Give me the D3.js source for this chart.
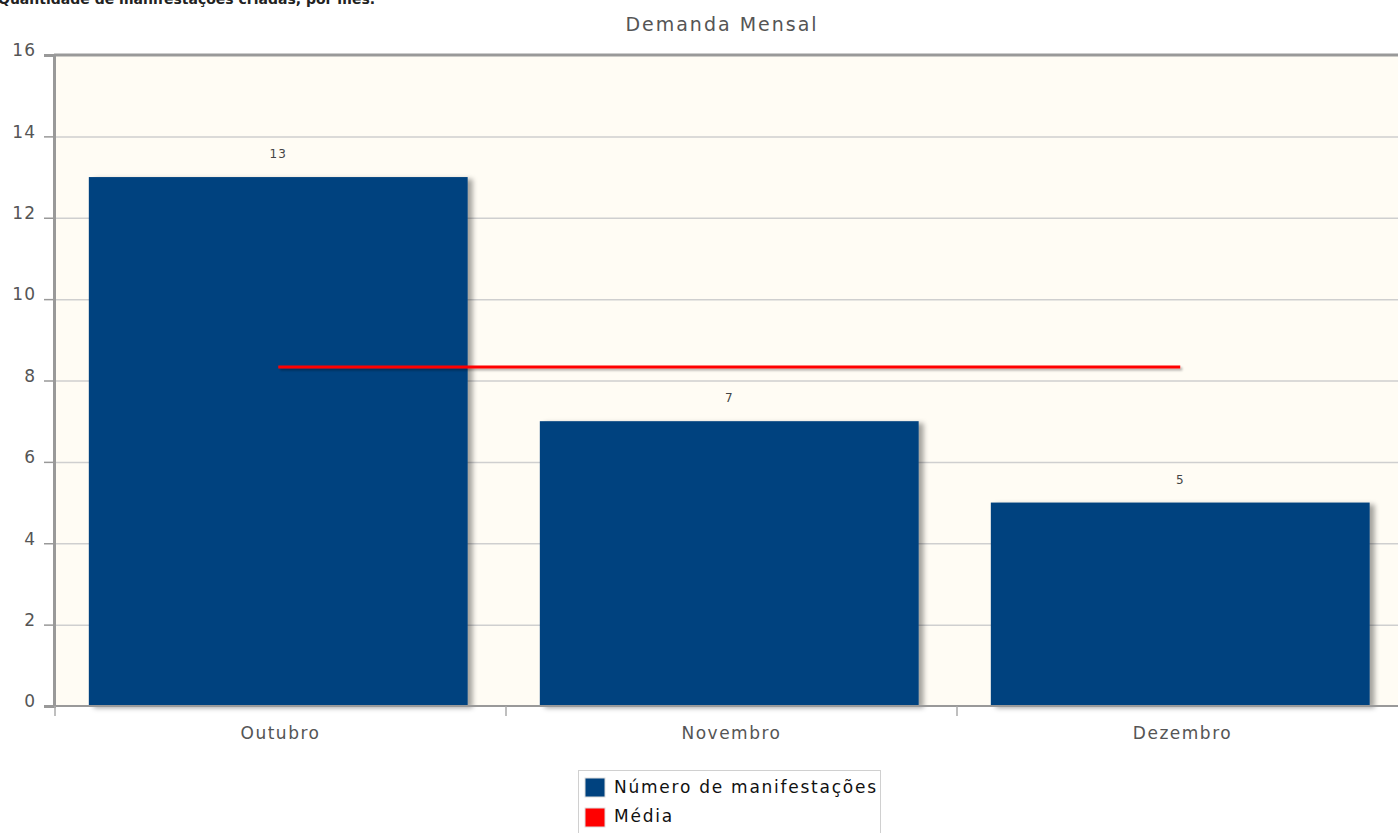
<!DOCTYPE html>
<html>
<head>
<meta charset="utf-8">
<script src="https://cdn.jsdelivr.net/npm/d3@7"></script>
<style>
  body { margin: 0; background: #fff; }
  text { font-family: "DejaVu Sans", Verdana, sans-serif; }
</style>
</head>
<body>
<div id="vis"></div>
<script>
// Data
const MONTHS = ["Outubro", "Novembro", "Dezembro"];
const COUNTS = [13, 7, 5];
const MEAN = [8.33, 8.33];
const Y_TICKS = [0, 2, 4, 6, 8, 10, 12, 14, 16];
const SERIES_NAMES = ["Número de manifestações", "Média"];

// Frame
const FRAME_WIDTH = 1398;
const FRAME_HEIGHT = 833;
const PLOT = { left: 55, right: 1408, top: 55, bottom: 706 };

const FRAME = d3.select("#vis")
    .append("svg")
    .attr("width", FRAME_WIDTH)
    .attr("height", FRAME_HEIGHT);

// shadow filters
const defs = FRAME.append("defs");
defs.append("filter").attr("id", "shadow")
    .attr("x", "-10%").attr("y", "-10%").attr("width", "130%").attr("height", "130%")
  .append("feDropShadow")
    .attr("dx", 5).attr("dy", 2).attr("stdDeviation", 2.5)
    .attr("flood-color", "#000").attr("flood-opacity", 0.35);
// line has zero height, so the filter region is in user space
defs.append("filter").attr("id", "lshadow")
    .attr("filterUnits", "userSpaceOnUse")
    .attr("x", 0).attr("y", 0).attr("width", FRAME_WIDTH).attr("height", FRAME_HEIGHT)
  .append("feDropShadow")
    .attr("dx", 2).attr("dy", 2).attr("stdDeviation", 1)
    .attr("flood-color", "#000").attr("flood-opacity", 0.3);

// scales
const X_SCALE = d3.scaleBand()
    .domain(MONTHS)
    .range([PLOT.left, PLOT.right])
    .padding(0);

const Y_SCALE = d3.scaleLinear()
    .domain([0, 16])
    .range([PLOT.bottom, PLOT.top]);

// top caption (cut at top edge, as in the original)
FRAME.append("text")
    .attr("x", -2).attr("y", 4)
    .attr("font-size", 14).attr("font-weight", "bold")
    .attr("fill", "#222")
    .text("Quantidade de manifestações criadas, por mês.");

// title
FRAME.append("text")
    .attr("x", 722).attr("y", 31)
    .attr("text-anchor", "middle")
    .attr("font-size", 19).attr("letter-spacing", 2).attr("fill", "#555")
    .text("Demanda Mensal");

// plot background
FRAME.append("rect")
    .attr("x", PLOT.left).attr("y", PLOT.top)
    .attr("width", PLOT.right - PLOT.left)
    .attr("height", PLOT.bottom - PLOT.top)
    .attr("fill", "#fffcf4");

// gridlines
FRAME.append("g")
    .attr("transform", "translate(" + PLOT.left + ",0)")
    .call(d3.axisRight(Y_SCALE).tickValues(Y_TICKS.slice(1, -1))
        .tickSize(PLOT.right - PLOT.left).tickFormat(""))
    .call(g => g.select(".domain").remove())
    .call(g => g.selectAll("line").attr("stroke", "#cfcfcf").attr("stroke-width", 1.5));

// bars
FRAME.selectAll(".bar")
    .data(MONTHS)
    .enter()
    .append("rect")
    .attr("class", "bar")
    .attr("x", (d) => X_SCALE(d) + X_SCALE.bandwidth() * 0.075)
    .attr("y", (d, i) => Y_SCALE(COUNTS[i]))
    .attr("width", X_SCALE.bandwidth() * 0.84)
    .attr("height", (d, i) => Y_SCALE(0) - Y_SCALE(COUNTS[i]))
    .attr("fill", "#00427f")
    .attr("filter", "url(#shadow)");

// value labels
FRAME.selectAll(".val")
    .data(MONTHS)
    .enter()
    .append("text")
    .attr("x", (d) => X_SCALE(d) + X_SCALE.bandwidth() * 0.495)
    .attr("y", (d, i) => Y_SCALE(COUNTS[i]) - 19)
    .attr("text-anchor", "middle")
    .attr("font-size", 12).attr("letter-spacing", 1).attr("fill", "#444")
    .text((d, i) => COUNTS[i]);

// mean line
const meanX = [MONTHS[0], MONTHS[MONTHS.length - 1]];
FRAME.append("path")
    .datum(MEAN)
    .attr("d", d3.line()
        .x((d, i) => X_SCALE(meanX[i]) + X_SCALE.bandwidth() * 0.495)
        .y((d) => Y_SCALE(d)))
    .attr("stroke", "#ff0000").attr("stroke-width", 3)
    .attr("fill", "none")
    .attr("filter", "url(#lshadow)");

// Y axis
FRAME.append("g")
    .attr("transform", "translate(" + (PLOT.left - 1) + ",0)")
    .call(d3.axisLeft(Y_SCALE).tickValues(Y_TICKS).tickSize(10).tickPadding(8))
    .call(g => g.select(".domain").attr("stroke", "#999").attr("stroke-width", 3))
    .call(g => g.selectAll("line").attr("stroke", "#999").attr("stroke-width", 1.5))
    .call(g => g.selectAll("text").attr("font-size", 17).attr("letter-spacing", 1).attr("fill", "#555")
        .attr("font-family", "DejaVu Sans, Verdana, sans-serif").attr("dy", "0.05em"));

// top border
FRAME.append("line")
    .attr("x1", PLOT.left - 1).attr("x2", PLOT.right)
    .attr("y1", PLOT.top).attr("y2", PLOT.top)
    .attr("stroke", "#999").attr("stroke-width", 3);

// X axis
const X_AXIS = FRAME.append("g")
    .attr("transform", "translate(0," + PLOT.bottom + ")");
X_AXIS.append("line")
    .attr("x1", PLOT.left).attr("x2", PLOT.right)
    .attr("stroke", "#999").attr("stroke-width", 2);
X_AXIS.selectAll(".xtick")
    .data(MONTHS)
    .enter()
    .append("line")
    .attr("x1", (d) => X_SCALE(d)).attr("x2", (d) => X_SCALE(d))
    .attr("y1", 0).attr("y2", 10)
    .attr("stroke", "#aaa").attr("stroke-width", 1.5);
X_AXIS.selectAll(".xlab")
    .data(MONTHS)
    .enter()
    .append("text")
    .attr("x", (d) => X_SCALE(d) + X_SCALE.bandwidth() / 2)
    .attr("y", 33)
    .attr("text-anchor", "middle")
    .attr("font-size", 17).attr("letter-spacing", 1.5).attr("fill", "#555")
    .text((d) => d);

// legend
const LEGEND = FRAME.append("g").attr("transform", "translate(578,770)");
LEGEND.append("rect")
    .attr("x", 0.5).attr("y", 0.5)
    .attr("width", 302).attr("height", 80)
    .attr("fill", "#fff").attr("stroke", "#d0d0d0");
const LEGEND_COLORS = ["#00427f", "#ff0000"];
SERIES_NAMES.forEach((name, i) => {
    LEGEND.append("rect")
        .attr("x", 7).attr("y", 8 + i * 30)
        .attr("width", 20).attr("height", 19)
        .attr("fill", LEGEND_COLORS[i])
        .attr("stroke", "#ddd");
    LEGEND.append("text")
        .attr("x", 36).attr("y", 23 + i * 29)
        .attr("font-size", 17).attr("letter-spacing", 1.75).attr("fill", "#111")
        .text(name);
});
</script>
</body>
</html>
